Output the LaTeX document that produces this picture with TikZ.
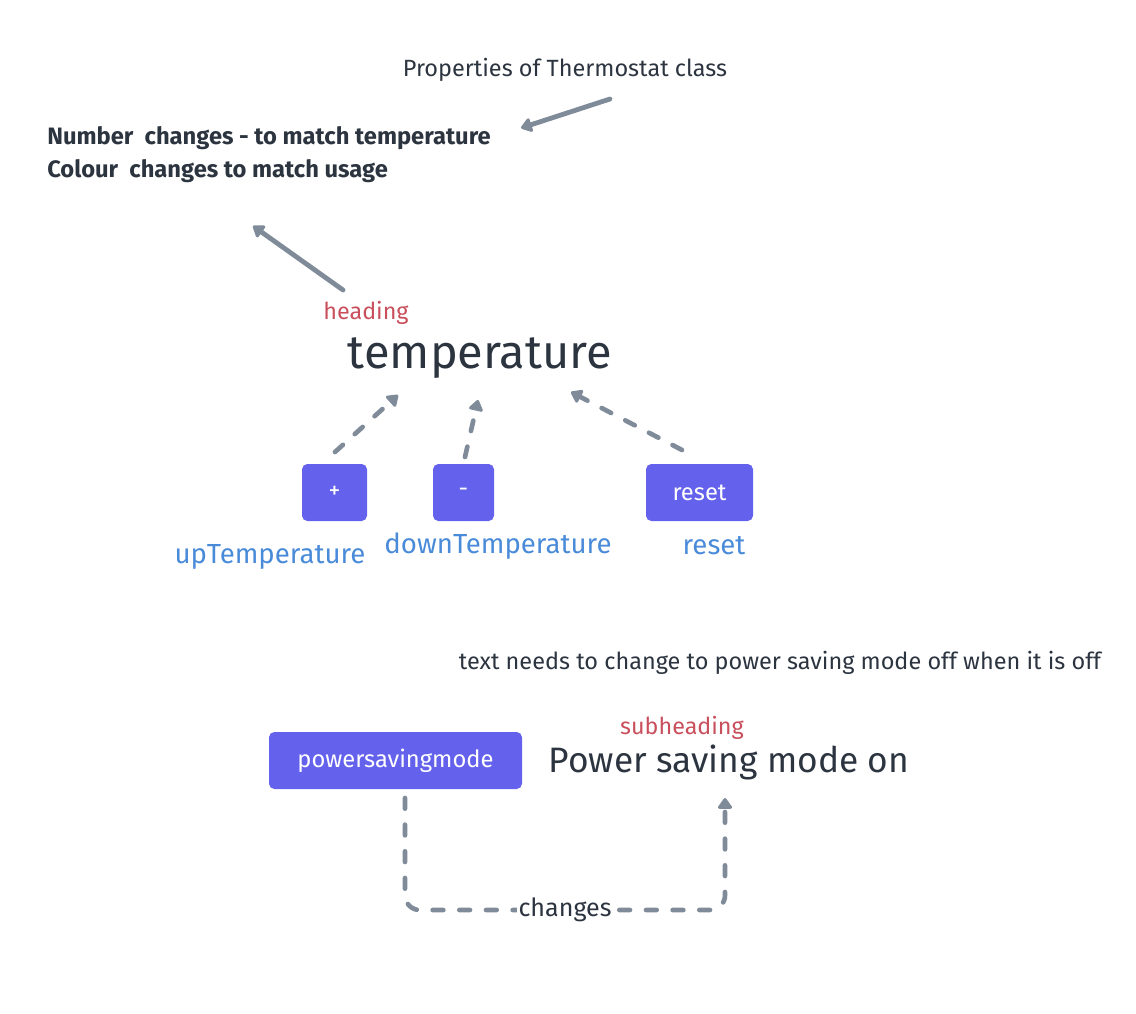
\documentclass[tikz,border=0pt]{standalone}
\usepackage{fontspec}
\setmainfont{Fira Sans}
\usetikzlibrary{arrows.meta,positioning}
\usepackage{xcolor}
\definecolor{ink}{HTML}{2C3440}
\definecolor{tagred}{HTML}{C94F5C}
\definecolor{methodblue}{HTML}{4A8BD9}
\definecolor{btnfill}{HTML}{6461EC}
\definecolor{linkgray}{HTML}{7F8B98}

\begin{document}
\begin{tikzpicture}[x=0.75pt,y=-0.75pt,
        >={Triangle[length=9pt,width=12pt,round]},
        note/.style={text=ink,font=\fontsize{17.6}{20}\selectfont,inner sep=0pt},
        tag/.style={text=tagred,font=\fontsize{17.5}{20}\selectfont,inner sep=0pt},
        method/.style={text=methodblue,font=\fontsize{20.7}{23}\selectfont,inner sep=0pt},
        button/.style={fill=btnfill,text=white,rounded corners=4pt,minimum height=42.75pt,
            inner sep=0pt,font=\fontsize{17.8}{20}\selectfont},
        pointer/.style={->,draw=linkgray,line width=3.6pt,line cap=round},
        link/.style={->,draw=linkgray,line width=3.5pt,line cap=round,dash pattern=on 8pt off 12pt}]

    \useasboundingbox (0,0) rectangle (1136,1014);

    % class notes
    \node[note] (props) at (565,70) {Properties of Thermostat class};
    \node[note,anchor=west,align=left,font=\bfseries\fontsize{17.8}{24.75}\selectfont] (reqs) at (47,155)
        {Number\ \ changes - to match temperature\\Colour\ \ changes to match usage};
    \coordinate (propsTail) at (610,99);
    \coordinate (propsTip) at (521,128);
    \path (propsTail) edge[pointer] (propsTip);

    % heading
    \node[tag] (headTag) at (366,313) {heading};
    \node[note,font=\fontsize{35.2}{40}\selectfont] (temp) at (480,358) {temperature};
    \coordinate (headTail) at (343,290);
    \coordinate (headTip) at (253,226);
    \path (headTail) edge[pointer] (headTip);

    % buttons
    \node[button,minimum width=48.75pt] (up) at (334.5,492.5) {+};
    \node[button,minimum width=45.75pt] (down) at (463.5,492.5) {-};
    \node[button,minimum width=80.25pt] (reset) at (699.5,492.5) {reset};
    \node[method] (upName) at (270,557) {upTemperature};
    \node[method] (downName) at (498,546) {downTemperature};
    \node[method] (resetName) at (714,546) {reset};

    \coordinate (upTail) at (335,452);
    \coordinate (upTip) at (398,395);
    \coordinate (downTail) at (465,457);
    \coordinate (downTip) at (478,400);
    \coordinate (resetTail) at (682,450);
    \coordinate (resetTip) at (571,392);
    \path (upTail) edge[link] (upTip);
    \path (downTail) edge[link] (downTip);
    \path (resetTail) edge[link] (resetTip);

    % power saving
    \node[note] (offNote) at (780,663) {text needs to change to power saving mode off when it is off};
    \node[tag] (subTag) at (682,728) {subheading};
    \node[button,minimum width=189.75pt] (psm) at (395.5,760.5) {powersavingmode};
    \node[note,font=\fontsize{26.5}{30}\selectfont] (pwr) at (729,762) {Power saving mode on};

    \coordinate (psmTail) at (405,798);
    \coordinate (pwrTip) at (725,798);
    \draw[link,rounded corners=11pt] (psmTail) -- (405,910) -- (725,910) -- (pwrTip);
    \node[note,fill=white,inner sep=1pt,font=\fontsize{18.8}{21}\selectfont] (chg) at (565,910) {changes};

\end{tikzpicture}
\end{document}
